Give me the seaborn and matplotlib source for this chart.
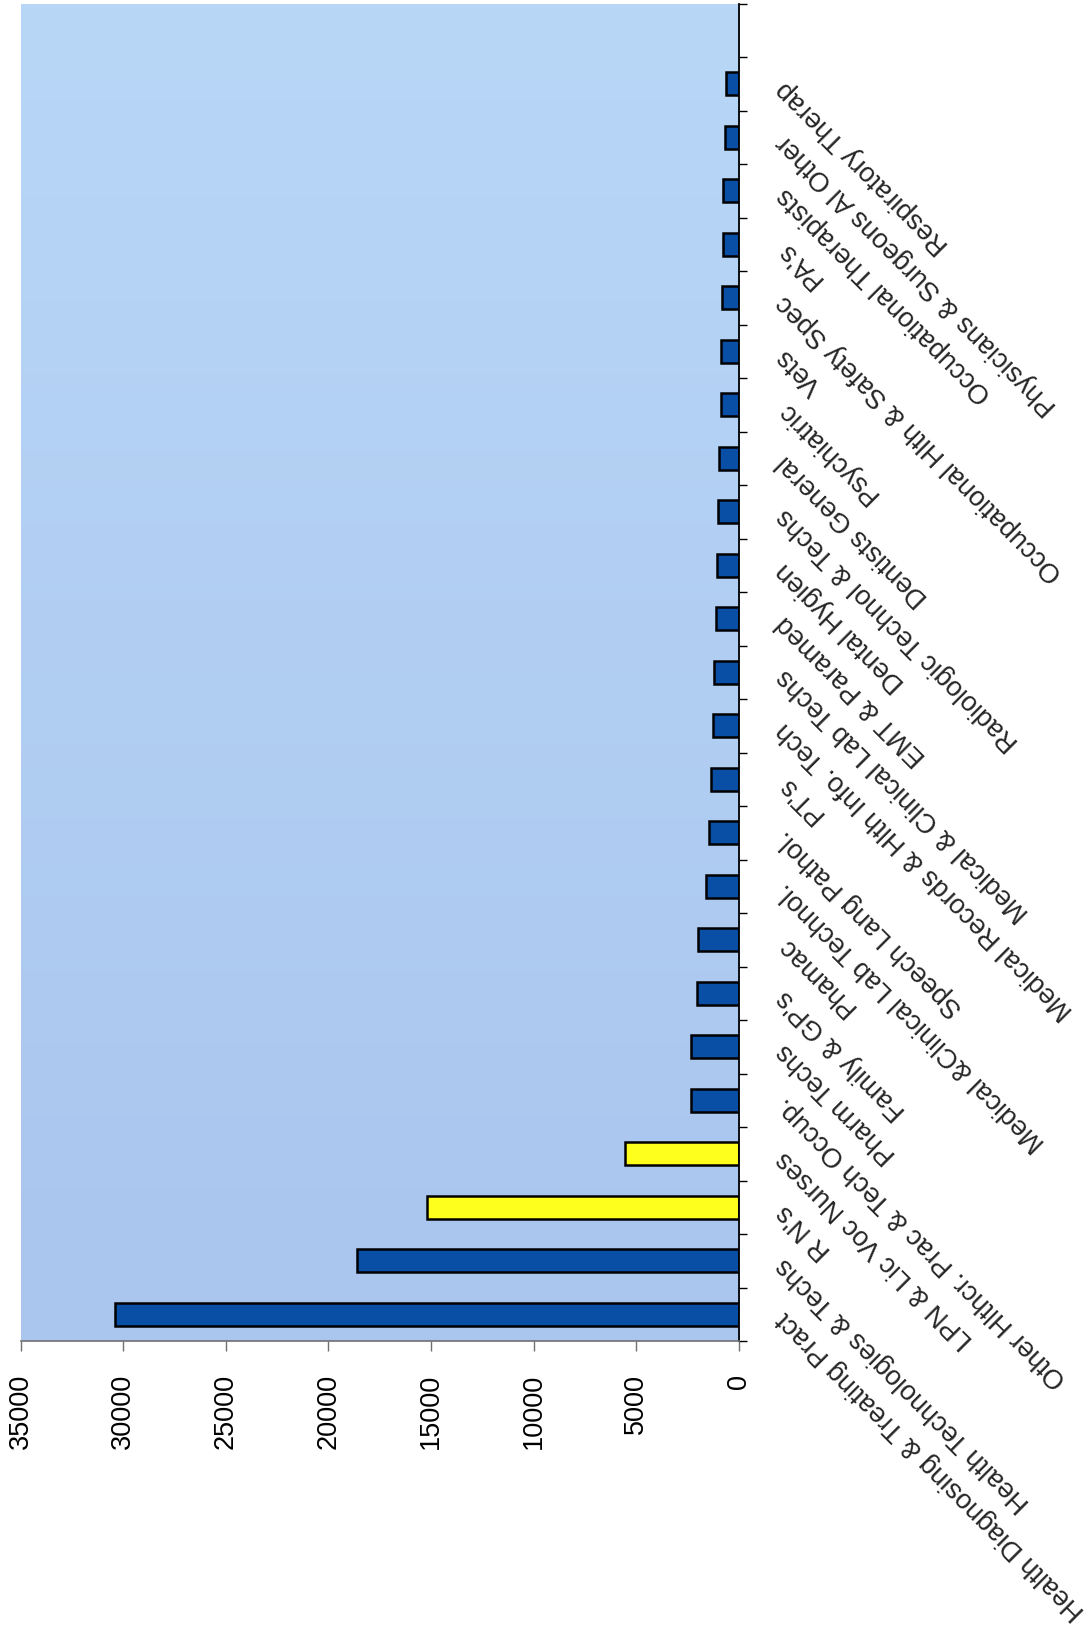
import numpy as np
import pandas as pd
import matplotlib
matplotlib.use("Agg")
import matplotlib.pyplot as plt
import seaborn as sns
from matplotlib.colors import LinearSegmentedColormap

# ---------------- data ----------------
categories = [
    "Health Diagnosing & Treating Pract",
    "Health Technologies & Techs",
    "R N's",
    "LPN & Lic Voc Nurses",
    "Other Hlthcr. Prac & Tech Occup.",
    "Pharm Techs",
    "Family & GP's",
    "Phamac",
    "Medical &Clinical Lab Technol.",
    "Speech Lang Pathol.",
    "PT's",
    "Medical Records & Hlth Info. Tech",
    "Medical & Clinical Lab Techs",
    "EMT & Paramed",
    "Dental Hygien",
    "Radiologic Technol & Techs",
    "Dentists General",
    "Psychiatric",
    "Vets",
    "Occupational Hlth & Safety Spec",
    "PA's",
    "Occupational Therapists",
    "Physicians & Surgeons Al Other",
    "Respiratory Therap",
]
values = [30400, 18600, 15200, 5550, 2360, 2340, 2040, 2000, 1600, 1480,
          1360, 1280, 1240, 1120, 1080, 1000, 950, 900, 860, 820,
          780, 760, 700, 650]
groups = ["Other", "Other", "Nursing", "Nursing"] + ["Other"] * 20
value_ticks = [0, 5000, 10000, 15000, 20000, 25000, 30000, 35000]
value_tick_labels = ["0", "5000", "10000", "15000", "20000", "25000", "30000", "35000"]
n_slots = 25  # category axis has one empty slot at the far end

df = pd.DataFrame({"category": categories, "value": values, "group": groups})

# ---------------- style ----------------
sns.set_style("ticks")
plt.rcParams["font.family"] = ["Liberation Sans", "DejaVu Sans"]
FS = 19.5

W, H = 1091, 1633
fig = plt.figure(figsize=(W / 100, H / 100), dpi=100)
left_px, right_px, top_px, bottom_px = 20.5, 739, 4.5, 1342
ax = fig.add_axes([left_px / W, (H - bottom_px) / H,
                   (right_px - left_px) / W, (bottom_px - top_px) / H])

# gradient plot-area background
cmap = LinearSegmentedColormap.from_list("bg", ["#AAC5EE", "#B8D7F7"])
grad = np.linspace(0, 1, 256).reshape(-1, 1)
ax.imshow(grad, extent=(0, 1, 0, 1), transform=ax.transAxes, cmap=cmap,
          aspect="auto", origin="lower", zorder=0)

sns.barplot(data=df, x="value", y="category", hue="group", order=categories,
            hue_order=["Other", "Nursing"],
            palette={"Other": "#0A4FA6", "Nursing": "#FFFF1E"},
            saturation=1, dodge=False, width=0.43, orient="h",
            edgecolor="black", linewidth=1.8, legend=False, ax=ax)

ax.set_xlim(35000, 0)
ax.set_ylim(-0.5, n_slots - 0.5)
ax.set_xlabel("")
ax.set_ylabel("")

# value axis (bottom)
ax.set_xticks(value_ticks)
ax.set_xticklabels(value_tick_labels, rotation=90, ha="center", va="top",
                   fontsize=FS)
ax.tick_params(axis="x", direction="out", length=7, width=1,
               color="#707070", pad=16, labelcolor="black")

# category axis (right)
ax.yaxis.tick_right()
ax.set_yticks(np.arange(len(categories)))
ax.set_yticklabels(categories, rotation=135, ha="right", va="center",
                   rotation_mode="anchor", fontsize=FS)
ax.tick_params(axis="y", which="major", length=0, pad=30,
               left=False, right=True, labelleft=False, labelright=True)
ax.set_yticks(np.arange(-0.5, n_slots, 1), minor=True)
ax.tick_params(axis="y", which="minor", length=6, width=1, color="black",
               direction="out", left=False, right=True)

for s in ["top", "left"]:
    ax.spines[s].set_visible(False)
ax.spines["bottom"].set_color("#707070")
ax.spines["bottom"].set_linewidth(1.2)
ax.spines["right"].set_color("black")
ax.spines["right"].set_linewidth(1.3)

fig.savefig("out.png", dpi=100)
